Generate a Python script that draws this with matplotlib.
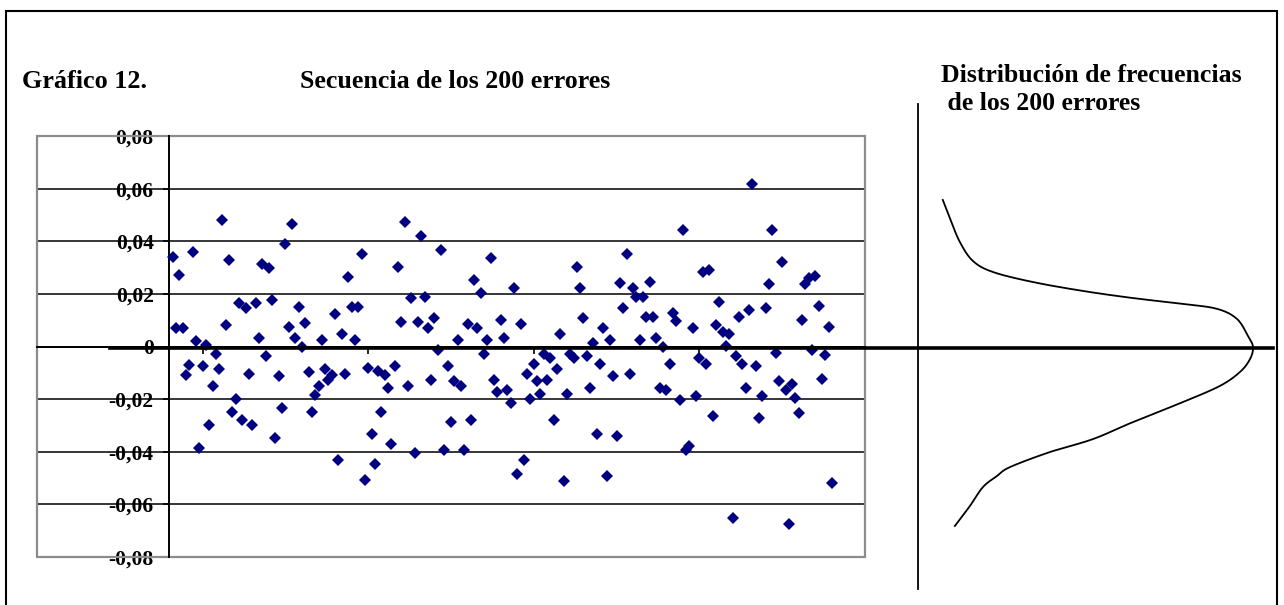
import matplotlib
matplotlib.use("Agg")
import matplotlib.pyplot as plt
from matplotlib.lines import Line2D
from matplotlib.patches import Rectangle
import numpy as np

plt.rcParams['font.family'] = ['Liberation Serif', 'DejaVu Serif']
plt.rcParams['font.weight'] = 'bold'

# secuencia de los 200 errores
errores = [
    0.034, 0.007, 0.027, 0.007, -0.011, -0.007, 0.036, 0.002, -0.0386, -0.0076,
    0.0006, -0.0298, -0.015, -0.003, -0.0085, 0.048, 0.008, 0.033, -0.025, -0.020,
    0.0167, -0.028, 0.0146, -0.0105, -0.030, 0.0167, 0.0032, 0.0314, -0.0038, 0.0298,
    0.0177, -0.0348, -0.0114, -0.0234, 0.039, 0.0076, 0.0465, 0.0032, 0.0152, 0.000,
    0.0091, -0.0097, -0.025, -0.0184, -0.015, 0.0025, -0.0085, -0.0127, -0.0108, 0.0123,
    -0.0433, 0.0047, -0.0105, 0.0266, 0.0152, 0.0025, 0.0152, 0.0351, -0.0509, -0.0082,
    -0.0333, -0.0447, -0.0095, -0.0249, -0.011, -0.0158, -0.0371, -0.0076, 0.0304, 0.0093,
    0.0473, -0.0152, 0.0184, -0.0403, 0.0093, 0.042, 0.019, 0.007, -0.0128, 0.0108,
    -0.0013, 0.0366, -0.0394, -0.0076, -0.0287, -0.0133, 0.0025, -0.0152, -0.0394, 0.0085,
    -0.0279, 0.0252, 0.007, 0.0205, -0.0029, 0.0025, 0.0336, -0.0129, -0.0173, 0.0101,
    0.0032, -0.0165, -0.0213, 0.0222, -0.0485, 0.0085, -0.0433, -0.0104, -0.0199, -0.0067,
    -0.0133, -0.018, -0.0029, -0.0129, -0.0044, -0.028, -0.0084, 0.0047, -0.051, -0.0181,
    -0.0029, -0.0044, 0.0304, 0.0222, 0.0108, -0.0038, -0.0158, 0.0013, -0.0333, -0.0067,
    0.007, -0.0494, 0.0025, -0.0114, -0.0342, 0.0243, 0.0146, 0.0351, -0.0105, 0.0222,
    0.019, 0.0025, 0.019, 0.0114, 0.0247, 0.0114, 0.0032, -0.0158, 0.0, -0.0167,
    -0.0067, 0.0127, 0.0098, -0.0203, 0.0442, -0.0393, -0.0377, 0.007, -0.019, -0.0044,
    0.0283, -0.0067, 0.0291, -0.0266, 0.0082, 0.0169, 0.0055, 0.0003, 0.0047, -0.0652,
    -0.0035, 0.0114, -0.0067, -0.0158, 0.0137, 0.0617, -0.0076, -0.0272, -0.019, 0.0146,
    0.0237, 0.0442, -0.0023, -0.013, 0.0321, -0.0165, -0.0675, -0.0142, -0.0196, -0.0251,
    0.0099, 0.0237, 0.026, -0.0013, 0.0269, 0.0155, -0.0123, -0.0032, 0.0076, -0.0517,
]
observacion = np.arange(1, len(errores) + 1)

ticks_y = [-0.08, -0.06, -0.04, -0.02, 0, 0.02, 0.04, 0.06, 0.08]
etiquetas_y = ['-0,08', '-0,06', '-0,04', '-0,02', '0', '0,02', '0,04', '0,06', '0,08']
ticks_x = [-40, 10, 60, 110, 160, 210]

# curva de frecuencias dibujada a mano (error, frecuencia relativa)
curva_error = [0.0557, 0.0485, 0.0397, 0.0325, 0.0283, 0.0245, 0.0211, 0.0184, 0.0162,
               0.0143, 0.0105, 0.0040, -0.0002, -0.0048, -0.0097, -0.0150, -0.0211,
               -0.0287, -0.0352, -0.0401, -0.0458, -0.0492, -0.0534, -0.0606, -0.0682]
curva_frec = [0.074, 0.096, 0.125, 0.164, 0.224, 0.343, 0.493, 0.642, 0.791,
              0.893, 0.952, 0.985, 1.0, 0.991, 0.961, 0.901, 0.791,
              0.642, 0.522, 0.394, 0.275, 0.236, 0.194, 0.155, 0.110]


def suavizar(xs, ys, sx, sy, n=12):
    # Catmull-Rom por los puntos leídos, solo para que el trazo no salga quebrado
    p = np.column_stack([np.asarray(xs) * sx, np.asarray(ys) * sy])
    p = np.vstack([p[0], p, p[-1]])
    out = []
    t = np.linspace(0, 1, n, endpoint=False)[:, None]
    for i in range(1, len(p) - 2):
        p0, p1, p2, p3 = p[i - 1], p[i], p[i + 1], p[i + 2]
        seg = 0.5 * (2 * p1 + (-p0 + p2) * t + (2 * p0 - 5 * p1 + 4 * p2 - p3) * t ** 2
                     + (-p0 + 3 * p1 - 3 * p2 + p3) * t ** 3)
        out.append(seg)
    out.append(p[-2][None, :])
    out = np.vstack(out)
    return out[:, 0] / sx, out[:, 1] / sy


W, H = 1284, 605
fig = plt.figure(figsize=(W / 100, H / 100), dpi=100)
fig.patch.set_facecolor('white')

# marco exterior
fig.add_artist(Rectangle((6 / W, -0.05), (1277 - 6) / W, 1.05 - 11 / H,
                         transform=fig.transFigure, fill=False, edgecolor='black', lw=1.5))

ax_b, ax_t = 1 - 557 / H, 1 - 136 / H
ax = fig.add_axes([37 / W, ax_b, (865 - 37) / W, ax_t - ax_b])
ax.set_xlim(-40, 210)
ax.set_ylim(-0.08, 0.08)

for y in ticks_y[1:-1]:
    ax.axhline(y, color='black', lw=1.1, zorder=1)

ax.plot(observacion, errores, linestyle='none', marker='D', markersize=6.6,
        markeredgewidth=0, color='#000080', zorder=3)

ax.spines['top'].set_visible(False)
ax.spines['right'].set_visible(False)
ax.spines['left'].set_position(('data', 0))
ax.spines['bottom'].set_position(('data', 0))
ax.spines['left'].set_color('black')
ax.spines['left'].set_linewidth(1.4)
ax.spines['bottom'].set_color('black')
ax.spines['bottom'].set_linewidth(1.4)
ax.add_patch(Rectangle((0, 0), 1, 1, transform=ax.transAxes, fill=False,
                       edgecolor='#8c8c8c', lw=1.6, zorder=2, clip_on=False))

ax.set_yticks(ticks_y)
ax.set_yticklabels(etiquetas_y, fontsize=15.5, fontweight='bold')
ax.set_xticks(ticks_x)
ax.set_xticklabels([])
ax.tick_params(axis='y', direction='out', length=4.5, width=1.2, pad=7)
ax.tick_params(axis='x', direction='out', length=5, width=1.2)

# panel de la distribución
ax2 = fig.add_axes([918 / W, ax_b, (1275 - 918) / W, ax_t - ax_b])
ax2.set_xlim(0, 357 / 335)
ax2.set_ylim(-0.08, 0.08)
ax2.axis('off')
fx, fy = suavizar(curva_frec, curva_error, 335, 421 / 0.16)
ax2.plot(fx, fy, color='black', lw=1.3)
ax2.plot([0, 0], [-0.0922, 0.0922], color='black', lw=1.3, clip_on=False)

# eje cero grueso
fig.add_artist(Line2D([110 / W, 1273 / W], [1 - 347.5 / H, 1 - 347.5 / H],
                      transform=fig.transFigure, color='black', lw=2.6))

fig.text(22 / W, 1 - 81 / H, 'Gráfico 12.', fontsize=18.8, fontweight='bold', va='center')
fig.text(300 / W, 1 - 81 / H, 'Secuencia de los 200 errores', fontsize=18.6,
         fontweight='bold', va='center')
fig.text(941 / W, 1 - 75 / H, 'Distribución de frecuencias', fontsize=18.5,
         fontweight='bold', va='center')
fig.text(941 / W, 1 - 103 / H, ' de los 200 errores', fontsize=18.5,
         fontweight='bold', va='center')

fig.savefig('out.png', dpi=100)
